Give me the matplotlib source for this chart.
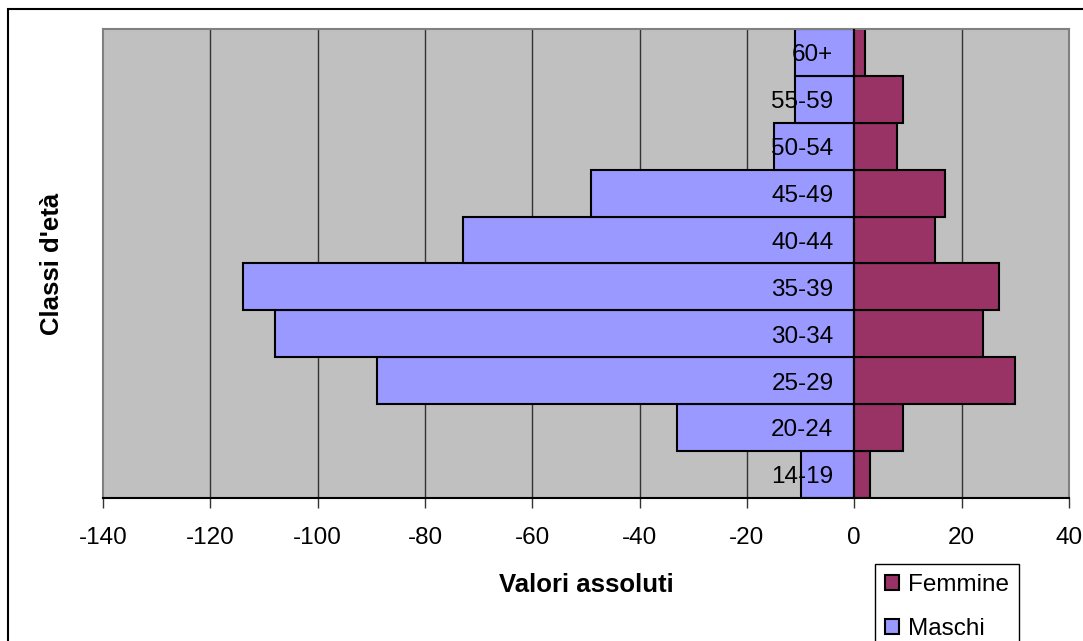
import matplotlib
matplotlib.use("Agg")
import matplotlib.pyplot as plt
from matplotlib.patches import Rectangle

plt.rcParams["font.family"] = ["Liberation Sans", "DejaVu Sans"]

classi = ["14-19", "20-24", "25-29", "30-34", "35-39",
          "40-44", "45-49", "50-54", "55-59", "60+"]
maschi = [-10, -33, -89, -108, -114, -73, -49, -15, -11, -11]
femmine = [3, 9, 30, 24, 27, 15, 17, 8, 9, 2]
x_ticks = [-140, -120, -100, -80, -60, -40, -20, 0, 20, 40]

fig = plt.figure(figsize=(10.83, 6.41), dpi=100)
ax = fig.add_axes([0.0951, 0.2231, 0.8919, 0.7317])
ax.set_facecolor("#C0C0C0")

pos = list(range(len(classi)))
ax.barh(pos, maschi, height=1.0, color="#9999FF", edgecolor="black",
        linewidth=1.5, label="Maschi", zorder=2)
ax.barh(pos, femmine, height=1.0, color="#993366", edgecolor="black",
        linewidth=1.5, label="Femmine", zorder=2)

# vertical gridlines behind the bars
for t in x_ticks[1:-1]:
    if t != 0:
        ax.axvline(t, color="#333333", lw=1.0, zorder=1)

ax.set_xlim(-140, 40)
ax.set_ylim(-0.5, len(classi) - 0.5)
ax.set_xticks(x_ticks)
ax.set_xticklabels([str(t) for t in x_ticks])
ax.tick_params(axis="x", direction="out", length=7, width=1.0,
               color="#333333", labelsize=17.5, pad=14)
ax.set_yticks([])

for s in ("top", "right", "left"):
    ax.spines[s].set_color("#808080")
    ax.spines[s].set_linewidth(1.5)
ax.spines["bottom"].set_color("black")
ax.spines["bottom"].set_linewidth(1.5)

# y axis at zero, category names next to it
ax.axvline(0, color="black", lw=1.5, zorder=3)
for p, lab in zip(pos, classi):
    ax.annotate(lab, xy=(0, p), xytext=(-15, -2), textcoords="offset points",
                ha="right", va="center", fontsize=17.5, zorder=5)

ax.set_xlabel("Valori assoluti", fontsize=18.5, fontweight="bold", labelpad=17)
ax.set_ylabel("Classi d'età", fontsize=18.5, fontweight="bold", labelpad=28)

h, l = ax.get_legend_handles_labels()
leg = fig.legend(h[::-1], l[::-1], loc="upper left",
                 bbox_to_anchor=(875 / 1083, 1 - 564 / 641), fontsize=17.5,
                 frameon=True, fancybox=False, edgecolor="black", framealpha=1,
                 handlelength=0.58, handleheight=0.58, handletextpad=0.35,
                 labelspacing=0.9, borderpad=0.42, borderaxespad=0)
leg.get_frame().set_linewidth(1.0)

fig.patches.append(Rectangle((8 / 1083, -0.2), 1.2, 1.2 - 9 / 641,
                             transform=fig.transFigure, fill=False,
                             edgecolor="black", lw=1.5))

fig.savefig("out.png", dpi=100)
